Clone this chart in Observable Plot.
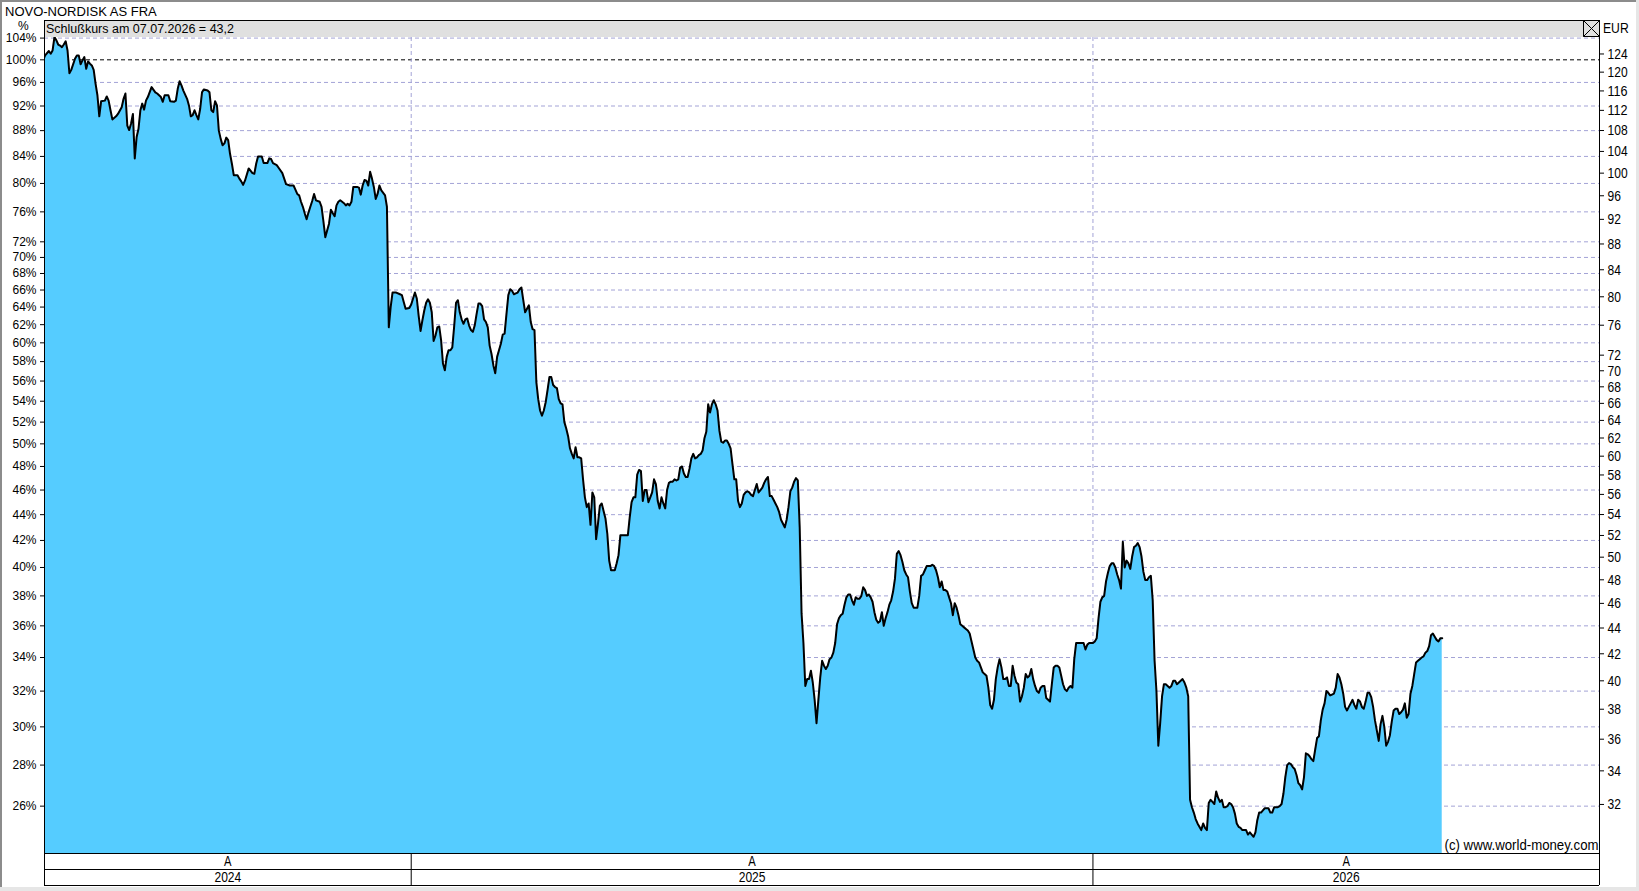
<!DOCTYPE html>
<html><head><meta charset="utf-8">
<script src="https://cdn.jsdelivr.net/npm/d3@7"></script>
<script src="https://cdn.jsdelivr.net/npm/@observablehq/plot@0.6"></script>
<style>
html,body{margin:0;padding:0;background:#fff;}
#page{position:relative;width:1639px;height:891px;overflow:hidden;background:#fff;}
#main,#bottom,#deco{position:absolute;left:0;}
#main{top:20px;} #bottom{top:853px;} #deco{top:0;pointer-events:none;}
svg{overflow:visible;}
</style></head><body>
<div id="page"><div id="main"></div><div id="bottom"></div><svg id="deco" width="1639" height="891"></svg></div>
<script>
const title = "NOVO-NORDISK AS FRA";
const credit = "(c) www.world-money.com";
const BASE_EUR = 122.7; // close at 100 %
const pctTicks = [104,100,96,92,88,84,80,76,72,70,68,66,64,62,60,58,56,54,52,50,48,46,44,42,40,38,36,34,32,30,28,26];
const eurTicks = [124,120,116,112,108,104,100,96,92,88,84,80,76,72,70,68,66,64,62,60,58,56,54,52,50,48,46,44,42,40,38,36,34,32];
const yearStarts = ["2025-01-01","2026-01-01"];
const yearLabels = ["2024","2025","2026"];
const xDomain = ["2024-06-18T16:00Z","2026-09-29T05:00Z"];
const pctDomain = [23.87, 104.11];

const closes2024 = [
["2024-06-18",100.0],["2024-06-19",100.8],["2024-06-21",101.6],["2024-06-22",101.1],["2024-06-23",101.7],["2024-06-24",104.2],["2024-06-25",103.6],["2024-06-26",102.8],["2024-06-27",102.6],["2024-06-28",102.3],["2024-06-29",102.8],["2024-06-30",103.4],
["2024-07-01",101.7],["2024-07-02",97.6],["2024-07-03",98.2],["2024-07-05",100.2],["2024-07-06",100.8],["2024-07-07",100.8],["2024-07-08",99.2],["2024-07-09",99.9],["2024-07-10",100.5],["2024-07-11",98.4],["2024-07-12",99.7],["2024-07-13",99.3],["2024-07-14",99.0],["2024-07-15",98.2],["2024-07-16",95.8],["2024-07-17",93.8],["2024-07-18",90.3],["2024-07-19",92.8],["2024-07-21",92.9],["2024-07-22",93.6],["2024-07-23",92.9],["2024-07-24",91.3],["2024-07-25",89.8],["2024-07-27",90.3],["2024-07-28",90.7],["2024-07-30",91.8],["2024-07-31",93.2],
["2024-08-01",94.1],["2024-08-02",88.8],["2024-08-03",88.1],["2024-08-04",89.1],["2024-08-05",90.7],["2024-08-06",83.7],["2024-08-07",87.0],["2024-08-08",88.3],["2024-08-09",91.3],["2024-08-10",92.4],["2024-08-11",91.4],["2024-08-12",92.9],["2024-08-13",93.5],["2024-08-15",95.2],["2024-08-17",94.3],["2024-08-18",94.1],["2024-08-20",93.5],["2024-08-21",92.7],["2024-08-22",93.8],["2024-08-24",93.8],["2024-08-25",92.8],["2024-08-27",92.7],["2024-08-28",92.9],["2024-08-29",94.9],["2024-08-30",96.2],["2024-08-31",95.5],
["2024-09-01",94.6],["2024-09-03",93.2],["2024-09-04",92.1],["2024-09-05",90.3],["2024-09-06",90.5],["2024-09-07",91.3],["2024-09-08",90.5],["2024-09-09",89.8],["2024-09-10",91.5],["2024-09-11",94.3],["2024-09-12",94.8],["2024-09-14",94.6],["2024-09-15",94.3],["2024-09-16",91.3],["2024-09-17",91.0],["2024-09-18",92.8],["2024-09-19",92.1],["2024-09-20",88.0],["2024-09-21",86.7],["2024-09-22",85.7],["2024-09-23",86.0],["2024-09-24",86.9],["2024-09-25",86.5],["2024-09-26",84.4],["2024-09-27",82.9],["2024-09-28",81.2],["2024-09-30",81.2],
["2024-10-01",80.7],["2024-10-02",80.3],["2024-10-03",79.8],["2024-10-04",80.4],["2024-10-06",82.2],["2024-10-08",81.5],["2024-10-09",81.4],["2024-10-10",82.9],["2024-10-11",84.0],["2024-10-13",84.0],["2024-10-14",83.0],["2024-10-16",83.0],["2024-10-17",83.7],["2024-10-18",83.6],["2024-10-19",83.0],["2024-10-21",82.7],["2024-10-22",82.3],["2024-10-24",81.5],["2024-10-25",80.7],["2024-10-26",79.9],["2024-10-28",79.7],["2024-10-30",79.7],["2024-10-31",79.1],
["2024-11-01",78.5],["2024-11-02",78.3],["2024-11-03",77.4],["2024-11-04",76.7],["2024-11-05",75.8],["2024-11-06",75.0],["2024-11-07",75.9],["2024-11-08",76.7],["2024-11-09",77.5],["2024-11-10",78.5],["2024-11-11",77.6],["2024-11-13",77.4],["2024-11-14",76.7],["2024-11-15",74.7],["2024-11-16",72.6],["2024-11-17",73.5],["2024-11-18",74.4],["2024-11-19",76.3],["2024-11-20",75.8],["2024-11-21",75.4],["2024-11-22",76.9],["2024-11-23",77.4],["2024-11-24",77.6],["2024-11-26",77.2],["2024-11-27",76.9],["2024-11-28",77.1],["2024-11-29",76.9],["2024-11-30",77.4],
["2024-12-01",79.5],["2024-12-02",79.5],["2024-12-03",79.5],["2024-12-04",79.4],["2024-12-05",78.4],["2024-12-06",79.7],["2024-12-07",80.5],["2024-12-08",80.4],["2024-12-09",79.7],["2024-12-10",81.7],["2024-12-11",80.7],["2024-12-12",79.5],["2024-12-13",77.8],["2024-12-14",78.5],["2024-12-15",79.7],["2024-12-16",79.0],["2024-12-18",78.3],["2024-12-19",76.7],["2024-12-20",61.7],["2024-12-21",64.0],["2024-12-22",65.7],["2024-12-24",65.7],["2024-12-26",65.5],["2024-12-27",65.4],["2024-12-28",64.6],["2024-12-29",63.8],["2024-12-31",63.9]
];
const closes2025 = [
["2025-01-01",64.3],["2025-01-02",65.0],["2025-01-03",65.7],["2025-01-04",65.0],["2025-01-05",63.0],["2025-01-06",61.3],["2025-01-07",62.5],["2025-01-08",63.6],["2025-01-09",64.5],["2025-01-10",64.9],["2025-01-11",64.5],["2025-01-12",63.4],["2025-01-13",60.2],["2025-01-14",60.8],["2025-01-15",61.7],["2025-01-16",61.8],["2025-01-17",60.3],["2025-01-18",57.8],["2025-01-19",57.1],["2025-01-20",58.5],["2025-01-21",59.2],["2025-01-22",59.2],["2025-01-23",59.5],["2025-01-24",61.8],["2025-01-25",64.5],["2025-01-26",64.8],["2025-01-27",63.4],["2025-01-28",62.6],["2025-01-29",62.1],["2025-01-30",62.6],["2025-01-31",62.7],
["2025-02-01",61.9],["2025-02-02",61.4],["2025-02-03",61.2],["2025-02-04",61.9],["2025-02-05",63.2],["2025-02-06",64.4],["2025-02-07",64.4],["2025-02-08",64.1],["2025-02-09",62.6],["2025-02-10",62.3],["2025-02-11",61.7],["2025-02-12",59.7],["2025-02-13",58.8],["2025-02-14",57.6],["2025-02-15",56.8],["2025-02-16",58.5],["2025-02-17",59.2],["2025-02-18",59.9],["2025-02-19",60.9],["2025-02-20",61.0],["2025-02-21",63.2],["2025-02-22",65.4],["2025-02-23",66.1],["2025-02-24",65.9],["2025-02-25",65.5],["2025-02-26",65.6],["2025-02-27",65.7],["2025-02-28",66.1],
["2025-03-01",66.3],["2025-03-02",64.8],["2025-03-03",63.4],["2025-03-04",63.8],["2025-03-05",64.2],["2025-03-06",62.3],["2025-03-07",61.5],["2025-03-08",61.4],["2025-03-09",55.9],["2025-03-10",54.2],["2025-03-11",53.1],["2025-03-12",52.6],["2025-03-13",53.1],["2025-03-14",53.9],["2025-03-15",55.1],["2025-03-16",56.4],["2025-03-17",56.4],["2025-03-18",55.6],["2025-03-19",55.4],["2025-03-20",55.3],["2025-03-21",54.2],["2025-03-22",53.8],["2025-03-23",53.7],["2025-03-24",52.0],["2025-03-25",51.4],["2025-03-26",50.7],["2025-03-27",49.6],["2025-03-28",49.1],["2025-03-29",48.7],["2025-03-30",49.7],["2025-03-31",48.8],
["2025-04-01",48.8],["2025-04-02",48.7],["2025-04-03",46.9],["2025-04-04",45.4],["2025-04-05",44.6],["2025-04-06",44.9],["2025-04-07",43.2],["2025-04-08",45.8],["2025-04-09",45.4],["2025-04-10",42.1],["2025-04-11",43.3],["2025-04-12",44.7],["2025-04-13",44.9],["2025-04-14",44.3],["2025-04-15",43.7],["2025-04-16",42.5],["2025-04-17",40.5],["2025-04-18",39.8],["2025-04-19",39.8],["2025-04-20",39.8],["2025-04-21",40.3],["2025-04-22",40.9],["2025-04-23",42.4],["2025-04-24",42.4],["2025-04-25",42.4],["2025-04-26",42.4],["2025-04-27",42.4],["2025-04-28",43.8],["2025-04-29",45.0],["2025-04-30",45.4],
["2025-05-01",45.4],["2025-05-02",47.3],["2025-05-03",47.7],["2025-05-04",47.6],["2025-05-05",45.1],["2025-05-06",46.0],["2025-05-07",46.0],["2025-05-08",45.0],["2025-05-09",45.4],["2025-05-10",45.8],["2025-05-11",46.9],["2025-05-12",46.5],["2025-05-13",45.1],["2025-05-14",44.5],["2025-05-15",45.4],["2025-05-16",44.9],["2025-05-17",44.5],["2025-05-18",46.0],["2025-05-19",46.6],["2025-05-20",46.7],["2025-05-21",46.7],["2025-05-22",46.9],["2025-05-23",46.8],["2025-05-24",46.9],["2025-05-25",47.9],["2025-05-26",48.0],["2025-05-27",47.4],["2025-05-28",47.1],["2025-05-29",47.1],["2025-05-30",47.8],["2025-05-31",48.7],
["2025-06-01",49.1],["2025-06-02",48.7],["2025-06-03",48.8],["2025-06-04",49.0],["2025-06-05",49.1],["2025-06-06",49.4],["2025-06-07",50.5],["2025-06-08",51.1],["2025-06-09",53.7],["2025-06-10",52.9],["2025-06-11",53.7],["2025-06-12",54.1],["2025-06-13",53.7],["2025-06-14",53.1],["2025-06-15",51.2],["2025-06-16",50.2],["2025-06-17",50.1],["2025-06-18",50.3],["2025-06-19",50.3],["2025-06-20",50.0],["2025-06-21",49.6],["2025-06-22",48.2],["2025-06-23",46.9],["2025-06-24",46.9],["2025-06-25",45.1],["2025-06-26",44.6],["2025-06-27",44.9],["2025-06-28",45.6],["2025-06-29",45.8],["2025-06-30",45.9],
["2025-07-01",45.8],["2025-07-02",45.6],["2025-07-03",45.5],["2025-07-04",46.0],["2025-07-05",46.5],["2025-07-06",45.8],["2025-07-07",46.0],["2025-07-08",46.2],["2025-07-09",46.6],["2025-07-10",46.9],["2025-07-11",47.1],["2025-07-12",45.5],["2025-07-13",45.5],["2025-07-14",45.2],["2025-07-15",44.9],["2025-07-16",44.6],["2025-07-17",44.2],["2025-07-18",43.6],["2025-07-19",43.3],["2025-07-20",43.0],["2025-07-21",43.6],["2025-07-22",44.6],["2025-07-23",45.9],["2025-07-24",46.2],["2025-07-25",46.7],["2025-07-26",47.0],["2025-07-27",46.8],["2025-07-28",43.0],["2025-07-29",36.8],["2025-07-30",34.9],["2025-07-31",32.3],
["2025-08-01",32.7],["2025-08-02",32.7],["2025-08-03",33.2],["2025-08-04",32.5],["2025-08-05",31.5],["2025-08-06",30.2],["2025-08-07",31.5],["2025-08-08",32.8],["2025-08-09",33.8],["2025-08-10",33.5],["2025-08-11",33.3],["2025-08-12",33.5],["2025-08-13",33.9],["2025-08-14",34.0],["2025-08-15",34.3],["2025-08-16",34.9],["2025-08-17",36.1],["2025-08-18",36.5],["2025-08-19",36.7],["2025-08-20",36.8],["2025-08-21",37.4],["2025-08-22",37.9],["2025-08-23",38.1],["2025-08-24",38.1],["2025-08-25",37.7],["2025-08-26",37.4],["2025-08-27",37.9],["2025-08-28",37.8],["2025-08-29",37.8],["2025-08-30",38.0],["2025-08-31",38.6],
["2025-09-01",38.4],["2025-09-02",38.0],["2025-09-03",38.1],["2025-09-04",37.9],["2025-09-05",37.6],["2025-09-06",36.9],["2025-09-07",36.4],["2025-09-08",36.2],["2025-09-09",36.3],["2025-09-10",36.9],["2025-09-11",36.0],["2025-09-12",36.5],["2025-09-13",36.9],["2025-09-14",37.4],["2025-09-15",37.7],["2025-09-16",38.3],["2025-09-17",39.2],["2025-09-18",41.0],["2025-09-19",41.2],["2025-09-20",40.9],["2025-09-21",40.4],["2025-09-22",39.8],["2025-09-23",39.5],["2025-09-24",39.3],["2025-09-25",38.3],["2025-09-26",37.5],["2025-09-27",37.2],["2025-09-28",37.2],["2025-09-29",37.2],["2025-09-30",38.0],
["2025-10-01",39.4],["2025-10-02",39.5],["2025-10-03",39.8],["2025-10-04",40.1],["2025-10-05",40.1],["2025-10-06",40.1],["2025-10-07",40.2],["2025-10-08",40.1],["2025-10-09",39.8],["2025-10-10",39.3],["2025-10-11",38.6],["2025-10-12",39.0],["2025-10-13",38.4],["2025-10-14",38.4],["2025-10-15",38.3],["2025-10-16",37.9],["2025-10-17",37.5],["2025-10-18",36.7],["2025-10-19",37.5],["2025-10-20",37.2],["2025-10-21",36.7],["2025-10-22",36.1],["2025-10-23",36.0],["2025-10-24",35.9],["2025-10-25",35.8],["2025-10-26",35.7],["2025-10-27",35.5],["2025-10-28",35.0],["2025-10-29",34.5],["2025-10-30",34.0],["2025-10-31",33.8],
["2025-11-01",33.7],["2025-11-02",33.4],["2025-11-03",33.1],["2025-11-04",33.0],["2025-11-05",32.9],["2025-11-06",32.2],["2025-11-07",31.2],["2025-11-08",31.0],["2025-11-09",31.5],["2025-11-10",32.7],["2025-11-11",33.4],["2025-11-12",33.9],["2025-11-13",33.4],["2025-11-14",32.7],["2025-11-15",32.7],["2025-11-16",32.8],["2025-11-17",32.3],["2025-11-18",32.3],["2025-11-19",33.5],["2025-11-20",32.9],["2025-11-21",32.5],["2025-11-22",32.4],["2025-11-23",31.4],["2025-11-24",31.7],["2025-11-25",32.2],["2025-11-26",33.0],["2025-11-27",32.8],["2025-11-28",32.9],["2025-11-29",33.3],["2025-11-30",32.7],
["2025-12-01",32.3],["2025-12-02",32.0],["2025-12-03",31.9],["2025-12-04",32.2],["2025-12-05",32.3],["2025-12-06",32.3],["2025-12-07",31.6],["2025-12-08",31.5],["2025-12-09",31.4],["2025-12-10",32.4],["2025-12-11",33.4],["2025-12-12",33.5],["2025-12-13",33.5],["2025-12-14",33.4],["2025-12-15",32.9],["2025-12-16",32.4],["2025-12-17",32.1],["2025-12-18",32.0],["2025-12-19",32.2],["2025-12-20",32.3],["2025-12-21",32.2],["2025-12-22",33.9],["2025-12-23",34.9],["2025-12-24",34.9],["2025-12-25",34.9],["2025-12-26",34.9],["2025-12-27",34.9],["2025-12-28",34.5],["2025-12-29",34.8],["2025-12-30",34.9],["2025-12-31",34.9]
];
const closes2026 = [
["2026-01-01",34.9],["2026-01-02",35.0],["2026-01-03",35.2],["2026-01-04",36.5],["2026-01-05",37.6],["2026-01-06",37.9],["2026-01-07",38.0],["2026-01-08",39.0],["2026-01-09",39.6],["2026-01-10",40.1],["2026-01-11",40.3],["2026-01-12",40.3],["2026-01-13",40.0],["2026-01-14",39.5],["2026-01-15",39.1],["2026-01-16",38.5],["2026-01-17",41.9],["2026-01-18",40.0],["2026-01-19",40.5],["2026-01-20",40.3],["2026-01-21",39.9],["2026-01-22",40.8],["2026-01-23",41.5],["2026-01-24",41.6],["2026-01-25",41.8],["2026-01-26",41.5],["2026-01-27",40.8],["2026-01-28",39.7],["2026-01-29",39.1],["2026-01-30",39.1],["2026-01-31",39.3],
["2026-02-01",39.4],["2026-02-02",37.7],["2026-02-03",33.8],["2026-02-04",32.0],["2026-02-05",29.0],["2026-02-06",30.2],["2026-02-07",31.7],["2026-02-08",32.4],["2026-02-09",32.4],["2026-02-10",32.3],["2026-02-11",32.2],["2026-02-12",32.3],["2026-02-13",32.6],["2026-02-14",32.6],["2026-02-15",32.4],["2026-02-16",32.5],["2026-02-17",32.6],["2026-02-18",32.7],["2026-02-19",32.5],["2026-02-20",32.2],["2026-02-21",31.7],["2026-02-22",26.3],["2026-02-23",25.95],["2026-02-24",25.7],["2026-02-25",25.4],["2026-02-26",25.2],["2026-02-27",25.05],["2026-02-28",24.9],
["2026-03-01",25.2],["2026-03-02",25.0],["2026-03-03",24.9],["2026-03-04",26.15],["2026-03-05",26.3],["2026-03-06",26.2],["2026-03-07",26.1],["2026-03-08",26.7],["2026-03-09",26.4],["2026-03-10",26.2],["2026-03-11",26.3],["2026-03-12",25.95],["2026-03-13",25.95],["2026-03-14",26.0],["2026-03-15",26.15],["2026-03-16",26.1],["2026-03-17",25.95],["2026-03-18",25.65],["2026-03-19",25.2],["2026-03-20",25.05],["2026-03-21",25.0],["2026-03-22",24.9],["2026-03-23",24.9],["2026-03-24",24.9],["2026-03-25",24.7],["2026-03-26",24.8],["2026-03-27",24.7],["2026-03-28",24.6],["2026-03-29",24.8],["2026-03-30",25.35],["2026-03-31",25.7],
["2026-04-01",25.7],["2026-04-02",25.8],["2026-04-03",25.9],["2026-04-04",25.9],["2026-04-05",25.9],["2026-04-06",25.7],["2026-04-07",25.7],["2026-04-08",25.95],["2026-04-09",25.95],["2026-04-10",25.95],["2026-04-11",26.0],["2026-04-12",26.1],["2026-04-13",26.6],["2026-04-14",27.4],["2026-04-15",28.0],["2026-04-16",28.1],["2026-04-17",28.05],["2026-04-18",27.9],["2026-04-19",27.8],["2026-04-20",27.5],["2026-04-21",27.1],["2026-04-22",27.0],["2026-04-23",26.8],["2026-04-24",27.4],["2026-04-25",28.6],["2026-04-26",28.55],["2026-04-27",28.45],["2026-04-28",28.3],["2026-04-29",28.2],["2026-04-30",28.8],
["2026-05-01",29.4],["2026-05-02",29.5],["2026-05-03",30.35],["2026-05-04",30.95],["2026-05-05",31.3],["2026-05-06",32.0],["2026-05-07",31.9],["2026-05-08",31.75],["2026-05-09",31.8],["2026-05-10",31.85],["2026-05-11",32.2],["2026-05-12",33.0],["2026-05-13",32.8],["2026-05-14",32.4],["2026-05-15",31.85],["2026-05-16",31.1],["2026-05-17",30.9],["2026-05-18",31.1],["2026-05-19",31.3],["2026-05-20",31.5],["2026-05-21",31.2],["2026-05-22",31.0],["2026-05-23",31.5],["2026-05-24",31.4],["2026-05-25",31.1],["2026-05-26",31.0],["2026-05-27",31.4],["2026-05-28",31.9],["2026-05-29",31.9],["2026-05-30",31.65],["2026-05-31",31.1],
["2026-06-01",30.35],["2026-06-02",29.8],["2026-06-03",29.25],["2026-06-04",30.15],["2026-06-05",30.6],["2026-06-06",30.0],["2026-06-07",29.0],["2026-06-08",29.2],["2026-06-09",29.55],["2026-06-10",30.3],["2026-06-11",30.9],["2026-06-12",31.0],["2026-06-13",31.0],["2026-06-14",30.7],["2026-06-15",30.8],["2026-06-16",30.95],["2026-06-17",31.3],["2026-06-18",30.5],["2026-06-19",30.7],["2026-06-20",31.85],["2026-06-21",32.3],["2026-06-22",33.0],["2026-06-23",33.7],["2026-06-24",33.8],["2026-06-25",33.9],["2026-06-26",34.0],["2026-06-27",34.07],["2026-06-28",34.3],["2026-06-29",34.4],["2026-06-30",34.7],
["2026-07-01",35.4],["2026-07-02",35.5],["2026-07-03",35.3],["2026-07-04",35.1],["2026-07-05",35.0],["2026-07-06",35.2],["2026-07-07",35.21]
];

const SANS = '"Liberation Sans", Arial, sans-serif';
const GRID = "#a3a3d6";
const FILL = "#55ccff";

const data = [...closes2024, ...closes2025, ...closes2026].map(([d, v]) => ({date: new Date(d), pct: v}));
const D0 = new Date(xDomain[0]), D1 = new Date(xDomain[1]);
const yStarts = yearStarts.map(d => new Date(d));

// narrow look: squeeze glyphs of a text element to a given width per character
function squeeze(el, perChar, total) {
  const t = el.textContent;
  el.setAttribute("textLength", total != null ? total : t.length * perChar);
  el.setAttribute("lengthAdjust", "spacingAndGlyphs");
}

const main = Plot.plot({
  width: 1639, height: 834,
  marginLeft: 44, marginRight: 40, marginTop: 17, marginBottom: 1,
  style: {fontFamily: SANS, fontSize: "12px", background: "transparent", color: "#000", overflow: "visible"},
  x: {type: "utc", domain: [D0, D1], axis: null},
  y: {type: "log", domain: pctDomain, axis: null},
  marks: [
    Plot.ruleY(pctTicks.filter(d => d !== 100), {stroke: GRID, strokeDasharray: "4,3"}),
    Plot.ruleY([100], {stroke: "#000", strokeDasharray: "4,3"}),
    Plot.ruleX(yStarts, {stroke: GRID, strokeDasharray: "4,3"}),
    Plot.areaY(data, {x: "date", y1: pctDomain[0], y2: "pct", fill: FILL, clip: true}),
    Plot.lineY(data, {x: "date", y: "pct", stroke: "#000", strokeWidth: 2, clip: true}),
    Plot.ruleX([D0, D1], {stroke: "#000"}),
    Plot.ruleY([pctDomain[0]], {stroke: "#000"}),
    Plot.axisY(pctTicks, {anchor: "left", tickSize: 4, tickPadding: 4, tickFormat: d => d + "%", label: null, fontFamily: SANS, fontSize: 12}),
    Plot.axisY(eurTicks.map(e => e / BASE_EUR * 100), {anchor: "right", tickSize: 4, tickPadding: 4, tickFormat: d => String(Math.round(d * BASE_EUR / 100)), label: null, fontFamily: SANS, fontSize: 15}),
    Plot.text([credit], {text: d => d, frameAnchor: "bottom-right", textAnchor: "end", lineAnchor: "bottom", dx: -1, dy: -4, fontFamily: SANS, fontSize: 14, fill: "#000"})
  ]
});
document.getElementById("main").appendChild(main);
d3.select(main).selectAll("text").each(function() {
  const t = this.textContent;
  if (/^\d+$/.test(t)) squeeze(this, 6.7);
  else if (t === credit) squeeze(this, 0, 154);
});

const bounds = [D0, ...yStarts, D1];
const segs = yearLabels.map((label, i) => ({label, mid: new Date((+bounds[i] + +bounds[i + 1]) / 2)}));
const bottom = Plot.plot({
  width: 1639, height: 33,
  marginLeft: 44, marginRight: 40, marginTop: 0, marginBottom: 0,
  style: {fontFamily: SANS, fontSize: "14px", background: "transparent", color: "#000", overflow: "visible"},
  x: {type: "utc", domain: [D0, D1], axis: null},
  y: {domain: [0, 32], range: [0, 32], axis: null},
  marks: [
    Plot.ruleY([16, 32], {stroke: "#000"}),
    Plot.ruleX(bounds, {y1: 0, y2: 32, stroke: "#000"}),
    Plot.text(segs, {x: "mid", y: 8, text: () => "A", fill: "#000"}),
    Plot.text(segs, {x: "mid", y: 24, text: "label", fill: "#000"})
  ]
});
document.getElementById("bottom").appendChild(bottom);
d3.select(bottom).selectAll("text").each(function() { squeeze(this, this.textContent === "A" ? 7.5 : 6.7); });

// decorations: title, header band, unit labels, window edges
const last = data[data.length - 1];
const header = "Schlußkurs am " + d3.utcFormat("%d.%m.%Y")(last.date) + " = " + (last.pct * BASE_EUR / 100).toFixed(1).replace(".", ",");
const deco = d3.select("#deco");
deco.append("rect").attr("x", 0).attr("y", 0).attr("width", 1639).attr("height", 2).attr("fill", "#8c8c8c");
deco.append("rect").attr("x", 0).attr("y", 0).attr("width", 2).attr("height", 891).attr("fill", "#8c8c8c");
deco.append("rect").attr("x", 1636).attr("y", 0).attr("width", 3).attr("height", 891).attr("fill", "#e6e6e6");
deco.append("rect").attr("x", 0).attr("y", 887).attr("width", 1639).attr("height", 4).attr("fill", "#e6e6e6");
deco.append("text").attr("x", 5).attr("y", 16).attr("font-family", SANS).attr("font-size", 13).text(title);
deco.append("text").attr("x", 18).attr("y", 29.5).attr("font-family", SANS).attr("font-size", 12).text("%");
deco.append("rect").attr("x", 44).attr("y", 20).attr("width", 1556).attr("height", 17).attr("fill", "#e0e0e0");
deco.append("path").attr("d", "M44,20.5H1600M44.5,20V37M1599.5,20V37").attr("stroke", "#000").attr("fill", "none");
deco.append("text").attr("x", 46).attr("y", 33).attr("font-family", SANS).attr("font-size", 12.5).text(header);
deco.append("path").attr("d", "M1583.5,20.5H1599.5V36.5H1583.5ZM1583.5,20.5L1599.5,36.5M1599.5,20.5L1583.5,36.5").attr("stroke", "#000").attr("fill", "none");
const eur = deco.append("text").attr("x", 1603).attr("y", 33.3).attr("font-family", SANS).attr("font-size", 15).text("EUR");
squeeze(eur.node(), 0, 25.7);
</script>
</body></html>
